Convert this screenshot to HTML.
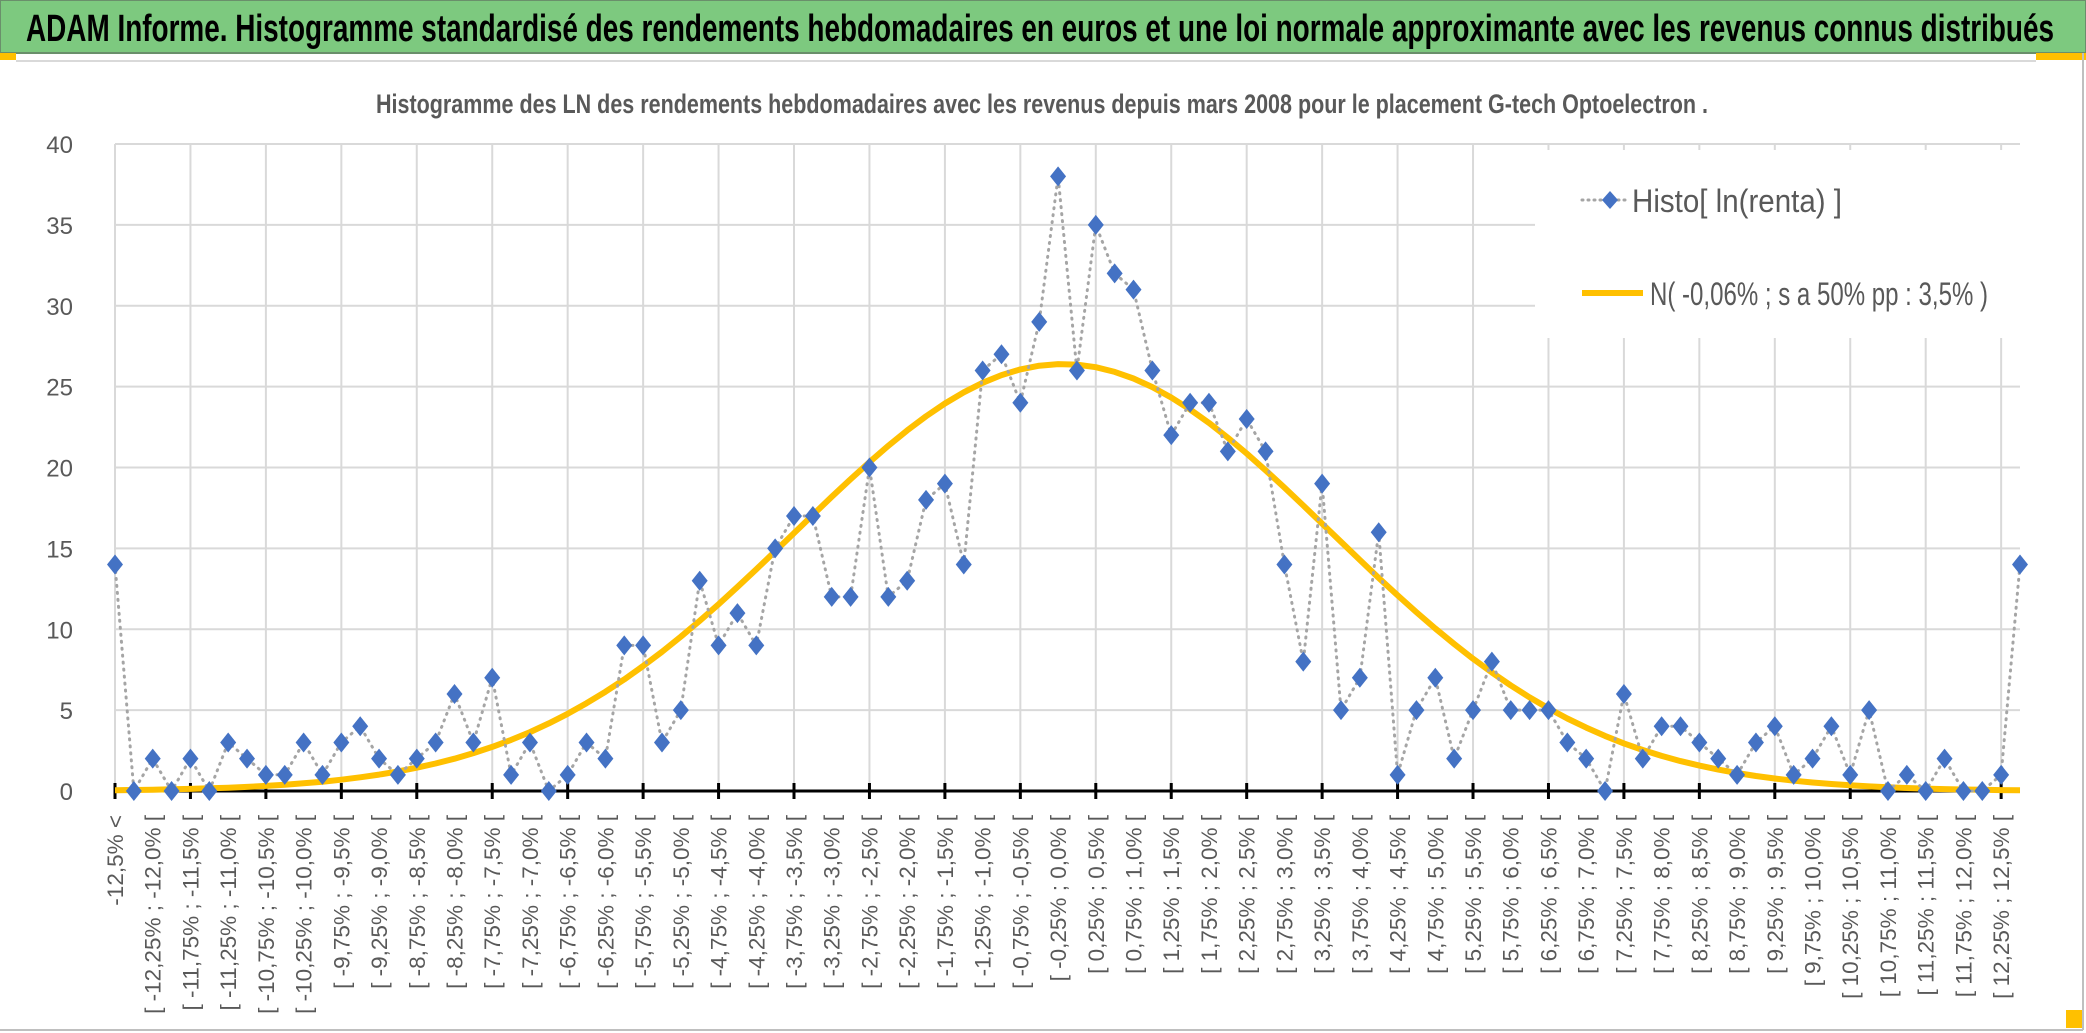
<!DOCTYPE html>
<html><head><meta charset="utf-8"><style>
html,body{margin:0;padding:0;background:#fff;}
svg{display:block;font-family:"Liberation Sans",sans-serif;}
</style></head><body>
<svg id="chart" width="2086" height="1033" viewBox="0 0 2086 1033" xmlns="http://www.w3.org/2000/svg">
<rect x="0" y="0" width="2086" height="1033" fill="#fff"/>
<rect x="0" y="0" width="2086" height="53" fill="#7dc97f" stroke="#6a8f6b" stroke-width="2"/>
<text x="26" y="41" font-size="38" font-weight="bold" fill="#000" textLength="2028" lengthAdjust="spacingAndGlyphs">ADAM Informe. Histogramme standardisé des rendements hebdomadaires en euros et une loi normale approximante avec les revenus connus distribués</text>
<rect x="0" y="53" width="16" height="7" fill="#ffc000"/>
<rect x="2036" y="53" width="50" height="7" fill="#ffc000"/>
<line x1="16" y1="61" x2="2036" y2="61" stroke="#d9d9d9" stroke-width="2"/>
<line x1="2083" y1="53" x2="2083" y2="1030" stroke="#bfbfbf" stroke-width="2"/>
<line x1="0" y1="1030" x2="2083" y2="1030" stroke="#bfbfbf" stroke-width="2"/>
<rect x="2066" y="1010" width="16" height="18" fill="#ffc000"/>
<text x="376" y="113" font-size="27" font-weight="bold" fill="#595959" textLength="1332" lengthAdjust="spacingAndGlyphs">Histogramme des LN des rendements hebdomadaires avec les revenus depuis mars 2008 pour le placement G-tech Optoelectron .</text>
<g id="grid"></g>
<g id="xlabels"></g>
<g id="curve"></g>
<g id="series"></g>
<g id="legend">
  <rect x="1535" y="150" width="490" height="188" fill="#fff"/>
  <g>
    <line x1="1582" y1="200" x2="1628" y2="200" stroke="#a5a5a5" stroke-width="3" stroke-dasharray="1 5" stroke-linecap="round"/>
    <path d="M1610 191 L1618 200 L1610 209 L1602 200 Z" fill="#4472c4"/>
    <text x="1632" y="212" font-size="32" fill="#595959" textLength="210" lengthAdjust="spacingAndGlyphs">Histo[ ln(renta) ]</text>
  </g>
  <g>
    <line x1="1582" y1="293" x2="1643" y2="293" stroke="#ffc000" stroke-width="6"/>
    <text x="1650" y="305" font-size="32" fill="#595959" textLength="338" lengthAdjust="spacingAndGlyphs">N( -0,06% ; s a 50% pp : 3,5% )</text>
  </g>
</g>
</svg>
<script>
const counts = [14,0,2,0,2,0,3,2,1,1,3,1,3,4,2,1,2,3,6,3,7,1,3,0,1,3,2,9,9,3,5,13,9,11,9,15,17,17,12,12,20,12,13,18,19,14,26,27,24,29,38,26,35,32,31,26,22,24,24,21,23,21,14,8,19,5,7,16,1,5,7,2,5,8,5,5,5,3,2,0,6,2,4,4,3,2,1,3,4,1,2,4,1,5,0,1,0,2,0,0,1,14];
const normMean = -0.06;
const normSigma = 3.55;
const normPeak = 26.4;
const yTicks = [0,5,10,15,20,25,30,35,40];
const binStart = -12.5;
const binWidth = 0.25;

const NS = "http://www.w3.org/2000/svg";
const X0 = 115, X1 = 2020, Y0 = 791, Y40 = 144;
const n = counts.length;
const xs = i => X0 + (X1 - X0) * i / (n - 1);
const ys = v => Y0 - (Y0 - Y40) * v / 40;
function mk(tag, attrs, parent) {
  const e = document.createElementNS(NS, tag);
  for (const k in attrs) e.setAttribute(k, attrs[k]);
  parent.appendChild(e);
  return e;
}
function fmt(v) {
  let s = (Math.abs(v) < 1e-9 ? 0 : v).toFixed(2);
  if (s.endsWith("0")) s = s.slice(0, -1);
  return s.replace(".", ",") + "%";
}
function catLabel(i) {
  if (i === 0) return fmt(binStart) + " <";
  if (i === n - 1) return fmt(-binStart) + " [";
  const a = binStart + binWidth * (i - 1);
  return "[ " + fmt(a) + " ; " + fmt(a + binWidth) + " [";
}
const grid = document.getElementById("grid");
yTicks.forEach(t => {
  if (t > 0) {
    const l = mk("line", {x1: X0, x2: X1, y1: ys(t), y2: ys(t), stroke: "#d9d9d9", "stroke-width": 2}, grid);
    
    
  }
  const tx = mk("text", {x: 73, y: ys(t) + 9, "font-size": 24, fill: "#595959", "text-anchor": "end"}, grid);
  tx.textContent = t;
  
  
});
for (let i = 0; i < n; i += 4) {
  const g = mk("line", {x1: xs(i), x2: xs(i), y1: Y40, y2: Y0, stroke: "#d9d9d9", "stroke-width": 2}, grid);
  
  
  const tk = mk("line", {x1: xs(i), x2: xs(i), y1: Y0 - 8, y2: Y0 + 8, stroke: "#000", "stroke-width": 3}, grid);
  
  
}
const ax = mk("line", {x1: X0, x2: X1, y1: Y0, y2: Y0, stroke: "#000", "stroke-width": 3}, grid);



const xl = document.getElementById("xlabels");
for (let i = 0; i < n; i += 2) {
  const x = xs(i) + 8, y = 815;
  const t = mk("text", {x: x, y: y, "font-size": 22.5, fill: "#595959", "text-anchor": "end", transform: "rotate(-90 " + x + " " + y + ")"}, xl);
  t.textContent = catLabel(i);
  
  
}

const cv = document.getElementById("curve");
let d = "";
for (let i = 0; i < n; i++) {
  const c = binStart + binWidth * (i - 1) + binWidth / 2;
  const v = normPeak * Math.exp(-0.5 * Math.pow((c - normMean) / normSigma, 2));
  d += (i ? "L" : "M") + xs(i).toFixed(1) + " " + ys(v).toFixed(1);
}
const cp = mk("path", {d: d, fill: "none", stroke: "#ffc000", "stroke-width": 6, "stroke-linejoin": "round"}, cv);



const sg = document.getElementById("series");
const pts = counts.map((v, i) => xs(i).toFixed(1) + "," + ys(v).toFixed(1)).join(" ");
const pl = mk("polyline", {points: pts, fill: "none", stroke: "#a5a5a5", "stroke-width": 3, "stroke-dasharray": "1 6", "stroke-linecap": "round"}, sg);


counts.forEach((v, i) => {
  const x = xs(i), y = ys(v);
  const m = mk("path", {d: `M${x} ${y-10} L${x+8} ${y} L${x} ${y+10} L${x-8} ${y} Z`, fill: "#4472c4"}, sg);
  
  
});
</script>
</body></html>
